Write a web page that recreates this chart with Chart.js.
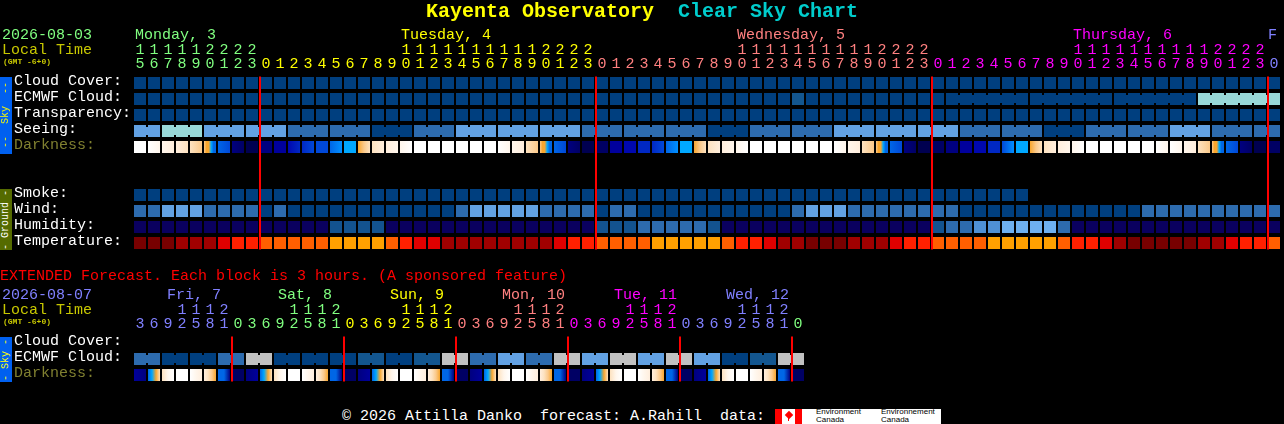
<!DOCTYPE html>
<html>
<head>
<meta charset="utf-8">
<title>Kayenta Observatory Clear Sky Chart</title>
<script src="https://cdn.jsdelivr.net/npm/chart.js@4"></script>
<style>
html, body { margin: 0; padding: 0; background: #000; overflow: hidden; }
#page { position: relative; width: 1284px; height: 424px; background: #000; overflow: hidden; }
canvas { position: absolute; left: 0; }
.txt { position: absolute; white-space: pre; font-family: "Liberation Mono", monospace; font-size: 15px; line-height: 16px; }
.side { position: absolute; left: 0; width: 12px; writing-mode: vertical-rl; transform: rotate(180deg); text-align: center;
  white-space: pre; font-family: "Liberation Mono", monospace; font-size: 10px; line-height: 12px; }
</style>
</head>
<body>
<div id="page">
  <canvas id="mainChart" width="1284" height="260" style="top:0"></canvas>
  <canvas id="extChart" width="1284" height="130" style="top:260px"></canvas>
</div>
<script>
// main forecast, one block per hour
const hours = [15,16,17,18,19,20,21,22,23,
  0,1,2,3,4,5,6,7,8,9,10,11,12,13,14,15,16,17,18,19,20,21,22,23,
  0,1,2,3,4,5,6,7,8,9,10,11,12,13,14,15,16,17,18,19,20,21,22,23,
  0,1,2,3,4,5,6,7,8,9,10,11,12,13,14,15,16,17,18,19,20,21,22,23,
  0];
const rowNames = ['Cloud Cover:','ECMWF Cloud:','Transparency:','Seeing:','Darkness:','','','Smoke:','Wind:','Humidity:','Temperature:'];

const cloudCover = [0,0,0,0,0,0,0,0,0,0,0,0,0,0,0,0,0,0,0,0,0,0,0,0,0,0,0,0,0,0,0,0,0,0,0,0,0,0,0,0,0,0,0,0,0,0,0,0,0,0,0,0,0,0,0,0,0,0,0,0,0,0,0,0,0,0,0,0,0,0,0,0,0,0,0,0,0,0,0,0,0,0];
const ecmwfCloud = [0,0,0,0,0,0,0,0,0,0,0,0,0,0,0,0,0,0,0,0,0,0,0,0,0,0,0,0,0,0,0,0,0,0,0,0,0,0,0,0,0,0,0,0,0,0,0,1,0,0,0,0,0,0,0,0,0,0,0,0,0,0,0,0,0,0,0,0,0,0,0,0,0,0,0,0,4,4,4,4,4,4];
const ecmwfBlocks = [1,1,1,1,1,1,1,1,1,1,1,1,1,1,1,1,1,1,1,1,1,1,1,1,1,1,1,1,1,1,1,1,1,1,1,1,1,1,1,1,1,1,1,1,1,1,1,1,1,1,1,1,1,1,1,1,1,1,6,6,6,6];
const transparency = [0,0,0,0,0,0,0,0,0,0,0,0,0,0,0,0,0,0,0,0,0,0,0,0,0,0,0,0,0,0,0,0,0,0,0,0,0,0,0,0,0,0,0,0,0,0,0,0,0,0,0,0,0,0,0,0,0,0,0,0,0,0,0,0,0,0,0,0,0,0,0,0,0,0,0,0,0,0,0,0,0,0];
const seeing = [3,3,4,4,4,3,3,3,3,3,3,2,2,2,2,2,2,0,0,0,2,2,2,3,3,3,3,3,3,3,3,3,2,2,2,2,2,2,2,2,2,0,0,0,2,2,2,2,2,2,3,3,3,3,3,3,3,3,3,2,2,2,2,2,2,0,0,0,2,2,2,2,2,2,3,3,3,2,2,2,2,2];
const seeingBlocks = [2,3,3,3,3,3,3,3,3,3,3,3,3,3,3,3,3,3,3,3,3,3,3,3,3,3,3,2];
const darkness = [[0],[0,1],[1,2],[2,3],[3,4],[4,5,5,6,8,8],[8,9],[13,14],[15],
  [13],[12],[11,10],[10,9],[9],[8,7],[6],[5,4,3],[3,2],[2,1],[1,0],[0],[0],[0],[0],[0],[0],[0,1],[1,2],[3,4],[4,5,5,6,8,8],[8,9],[13,14],[15],
  [14],[12],[11],[10],[10,9],[8,7],[6],[5,4,3],[3,2],[2,1],[1,0],[0],[0],[0],[0],[0],[0],[0,1],[1,2],[3,4],[4,5,5,6,8,8],[8,9],[13,14],[15],
  [14],[13],[12],[11],[10],[9,7],[6],[5,4,3],[3,2],[2,1],[1,0],[0],[0],[0],[0],[0],[0,1],[0,1],[1,2],[3,4],[4,5,5,6,8,8],[8,9],[13,14],[15],
  [14]];
const smoke = [0,0,0,0,0,0,0,0,0,0,0,0,0,0,0,0,0,0,0,0,0,0,0,0,0,0,0,0,0,0,0,0,0,0,0,0,0,0,0,0,0,0,0,0,0,0,0,0,0,0,0,0,0,0,0,0,0,0,0,0,0,0,0,0];
const wind = [2,2,3,3,3,2,2,2,2,0,2,0,0,0,0,0,0,0,0,0,0,0,0,2,3,3,3,3,3,2,2,2,2,0,2,2,0,0,0,0,0,0,0,0,0,0,0,2,3,3,3,2,2,2,2,2,2,2,2,0,0,0,0,0,0,0,0,0,0,0,0,0,2,2,2,2,2,2,2,2,2,2];
const humidity = [0,0,0,0,0,0,0,0,0,0,0,0,0,0,1,1,1,1,0,0,0,0,0,0,0,0,0,0,0,0,0,0,0,1,1,1,2,2,2,2,2,1,0,0,0,0,0,0,0,0,0,0,0,0,0,0,0,1,2,2,3,3,4,4,4,4,2,0,0,0,0,0,0,0,0,0,0,0,0,0,0,0];
const temperature = [0,0,0,1,1,1,2,3,3,4,4,4,4,4,5,5,5,5,4,3,2,2,1,1,1,1,1,1,1,1,2,3,3,4,4,4,4,5,5,5,5,5,4,3,3,2,1,1,0,0,0,1,1,1,2,3,3,4,4,4,4,5,5,5,5,5,4,3,3,2,1,0,0,0,0,0,1,1,2,3,3,4];

// extended forecast, one block is 3 hours
const extHours = [3,6,9,12,15,18,21,0,3,6,9,12,15,18,21,0,3,6,9,12,15,18,21,0,3,6,9,12,15,18,21,0,3,6,9,12,15,18,21,0,3,6,9,12,15,18,21,0];
const extRowNames = ['Cloud Cover:','ECMWF Cloud:','Darkness:'];
const extCloud = [2,2,0,0,0,0,2,2,5,5,0,0,0,0,0,0,1,1,0,0,1,1,5,5,2,2,3,3,2,2,5,5,3,3,5,5,3,3,5,5,3,3,0,0,1,1,5,5];
const extBlocks = [2,2,2,2,2,2,2,2,2,2,2,2,2,2,2,2,2,2,2,2,2,2,2,2];
const extDarkness = [[12,13],[8,6,5,3],[3,1,0],[0],[0,1,2],[2,3,4,5],[8,8,13],[14],
  [13,12],[8,6,5,3],[3,1,0],[0],[0,1,2],[2,3,4,5],[8,8,13],[14],
  [13,12],[8,6,5,3],[3,1,0],[0],[0,1,2],[2,3,4,5],[8,8,13],[14],
  [13,12],[8,6,5,3],[3,1,0],[0],[0,1,2],[2,3,4,5],[8,8,13],[14],
  [13,12],[8,6,5,3],[3,1,0],[0],[0,1,2],[2,3,4,5],[8,8,13],[14],
  [13,12],[8,6,5,3],[3,1,0],[0],[0,1,2],[2,3,4,5],[8,8,13],[14]];

const skyColors = ['#003f7f','#13568f','#2d6bae','#62a1e3','#99d9d9','#c1c1c1'];
const humidityColors = ['#0a005f','#13538f','#2d6bae','#4f90d4','#6eb0f0'];
const tempColors = ['#780000','#a00000','#e00000','#ff2000','#ff5f00','#ffa000'];
const darkColors = ['#ffffff','#fff6ec','#ffeedd','#fde2c0','#fbc98a','#f8a62e','#00a8ff','#0090ff','#0066e6','#0048d8','#0028c4','#0008b0','#00009c','#000080','#000064','#000050'];
const dayColors = ['#80ff80','#ffff00','#ff8080','#ff00ff','#8080ff'];
const extDayColors = ['#8080ff','#80ff80','#ffff00','#ff8080','#ff00ff','#8080ff','#80ff80'];

const monoFont = { family: '"Liberation Mono", monospace', size: 15, lineHeight: '14px' };

function midnights(list) {
  const out = [];
  list.forEach((h, i) => { if (h === 0) out.push(i); });
  return out;
}

function columnColor(col, cuts, colors) {
  let n = 0;
  cuts.forEach(c => { if (col >= c) n++; });
  return colors[n];
}

function cells(values, row, palette) {
  return {
    data: values.map((v, i) => ({ x: i, y: [row + 0.125, row + 0.875] })),
    backgroundColor: values.map(v => palette[v]),
    barThickness: 12
  };
}

// short joins between blocks which belong to one forecast step
function necks(values, blocks, row, palette) {
  const data = [], colors = [];
  let col = 0;
  blocks.forEach(len => {
    for (let i = col; i < col + len - 1; i++) {
      data.push({ x: i + 0.5, y: [row + 0.25, row + 0.75] });
      colors.push(palette[values[i]]);
    }
    col += len;
  });
  return { data: data, backgroundColor: colors, barThickness: 2 };
}

function darkCells(stops, row) {
  return {
    data: stops.map((s, i) => ({ x: i, y: [row + 0.125, row + 0.875] })),
    barThickness: 12,
    backgroundColor: function (c) {
      const s = stops[c.dataIndex];
      if (s.length === 1) return darkColors[s[0]];
      const px = c.chart.scales.x.getPixelForValue(c.dataIndex);
      if (!isFinite(px)) return darkColors[s[0]];
      const g = c.chart.ctx.createLinearGradient(px - 6, 0, px + 6, 0);
      s.forEach((v, k) => g.addColorStop(k / (s.length - 1), darkColors[v]));
      return g;
    }
  };
}

function midnightLines(list, rowCount) {
  return {
    data: midnights(list).map(c => ({ x: c - 0.5 + 1 / 14, y: [0.1, rowCount - 0.1] })),
    backgroundColor: '#ff0000',
    barThickness: 2
  };
}

function makeChart(id, list, names, cuts, colors, datasets, rightPad, bottomPad) {
  return new Chart(document.getElementById(id), {
    type: 'bar',
    data: { datasets: datasets },
    options: {
      responsive: false,
      animation: false,
      events: [],
      layout: { padding: { left: 14, right: rightPad, top: 0, bottom: bottomPad } },
      datasets: { bar: { grouped: false, inflateAmount: 0, borderWidth: 0 } },
      plugins: { legend: { display: false }, tooltip: { enabled: false } },
      scales: {
        x: {
          type: 'linear',
          position: 'top',
          offset: false,
          min: -0.5,
          max: list.length - 0.5,
          grid: { display: false, drawTicks: false },
          border: { display: false },
          afterBuildTicks: s => { s.ticks = list.map((h, i) => ({ value: i })); },
          afterFit: s => { s.height = 75; s.paddingLeft = 0; s.paddingRight = 0; },
          ticks: {
            autoSkip: false,
            maxRotation: 0,
            padding: 4,
            font: monoFont,
            color: c => columnColor(c.index, cuts, colors),
            callback: (v, i) => {
              const h = list[i];
              return h >= 10 ? [String(Math.floor(h / 10)), String(h % 10)] : ['', String(h)];
            }
          }
        },
        y: {
          type: 'linear',
          reverse: true,
          min: 0,
          max: names.length,
          grid: { display: false, drawTicks: false },
          border: { display: false },
          afterBuildTicks: s => { s.ticks = names.map((n, i) => ({ value: i + 0.375 })); },
          afterFit: s => { s.width = 119; s.paddingTop = 0; s.paddingBottom = 0; },
          ticks: {
            autoSkip: false,
            crossAlign: 'far',
            padding: 0,
            font: monoFont,
            color: c => names[c.index] === 'Darkness:' ? '#808030' : '#ffffff',
            callback: (v, i) => names[i]
          }
        }
      }
    }
  });
}

const cuts = midnights(hours);
const extCuts = midnights(extHours);

const mainChart = makeChart('mainChart', hours, rowNames, cuts, dayColors, [
  midnightLines(hours, rowNames.length),
  necks(ecmwfCloud, ecmwfBlocks, 1, skyColors),
  necks(seeing, seeingBlocks, 3, skyColors),
  cells(cloudCover, 0, skyColors),
  cells(ecmwfCloud, 1, skyColors),
  cells(transparency, 2, skyColors),
  cells(seeing, 3, skyColors),
  darkCells(darkness, 4),
  cells(smoke, 7, skyColors),
  cells(wind, 8, skyColors),
  cells(humidity, 9, humidityColors),
  cells(temperature, 10, tempColors)
], 3, 9);

const extChart = makeChart('extChart', extHours, extRowNames, extCuts, extDayColors, [
  midnightLines(extHours, extRowNames.length),
  necks(extCloud, extBlocks, 1, skyColors),
  cells(extCloud, 1, skyColors),
  darkCells(extDarkness, 2)
], 479, 7);

// free text around the charts
const page = document.getElementById('page');

function label(text, x, y, color, extra) {
  const d = document.createElement('div');
  d.className = 'txt';
  d.textContent = text;
  d.style.left = x + 'px';
  d.style.top = (y - 7) + 'px';
  d.style.color = color;
  if (extra) Object.assign(d.style, extra);
  page.appendChild(d);
  return d;
}

function sideBar(text, top, height, bg, color) {
  const d = document.createElement('div');
  d.className = 'side';
  d.textContent = text;
  d.style.top = top + 'px';
  d.style.height = height + 'px';
  d.style.background = bg;
  d.style.color = color;
  page.appendChild(d);
}

const titleFont = { fontSize: '20px', fontWeight: 'bold', lineHeight: '20px' };
const tinyFont = { fontSize: '8px', fontWeight: 'bold' };

label('Kayenta Observatory', 426, 9, '#ffff00', titleFont);
label('Clear Sky Chart', 678, 9, '#00cccc', titleFont);

label('2026-08-03', 2, 35, '#80ff80');
label('Local Time', 2, 50, '#c8c800');
label('(GMT -6+0)', 3, 61, '#c8c800', tinyFont);
label('Monday, 3', 135, 35, '#80ff80');
label('Tuesday, 4', 401, 35, '#ffff00');
label('Wednesday, 5', 737, 35, '#ff8080');
label('Thursday, 6', 1073, 35, '#ff00ff');
label('F', 1268, 35, '#8080ff');

sideBar(' --  Sky  -- ', 77, 77, '#0060f0', '#ffff00');
sideBar('- Ground -', 189, 61, '#556b00', '#ffffff');
sideBar('- Sky -', 337, 45, '#0060f0', '#ffff00');

label('EXTENDED Forecast. Each block is 3 hours. (A sponsored feature)', 0, 276, '#ff0000');
label('2026-08-07', 2, 295, '#8080ff');
label('Local Time', 2, 310, '#c8c800');
label('(GMT -6+0)', 3, 321, '#c8c800', tinyFont);
label('Fri, 7', 167, 295, '#8080ff');
label('Sat, 8', 278, 295, '#80ff80');
label('Sun, 9', 390, 295, '#ffff00');
label('Mon, 10', 502, 295, '#ff8080');
label('Tue, 11', 614, 295, '#ff00ff');
label('Wed, 12', 726, 295, '#8080ff');

label('\u00a9 2026 Attilla Danko  forecast: A.Rahill  data:', 342, 416, '#ffffff');

// data credit strip
const strip = document.createElement('div');
strip.style.cssText = 'position:absolute;left:775px;top:409px;width:166px;height:15px;background:#fff;';
strip.innerHTML = '<div style="position:absolute;left:0;top:0;width:7px;height:15px;background:#f00"></div>'
  + '<div style="position:absolute;left:20px;top:0;width:7px;height:15px;background:#f00"></div>'
  + '<div style="position:absolute;left:11px;top:3px;width:6px;height:6px;background:#f00;transform:rotate(45deg)"></div>'
  + '<div style="position:absolute;left:13px;top:8px;width:1px;height:4px;background:#f00"></div>'
  + '<div style="position:absolute;left:41px;top:-1px;font:8px/8px \'Liberation Sans\',sans-serif;color:#000">Environment<br>Canada</div>'
  + '<div style="position:absolute;left:106px;top:-1px;font:8px/8px \'Liberation Sans\',sans-serif;color:#000">Environnement<br>Canada</div>';
page.appendChild(strip);
</script>
</body>
</html>
